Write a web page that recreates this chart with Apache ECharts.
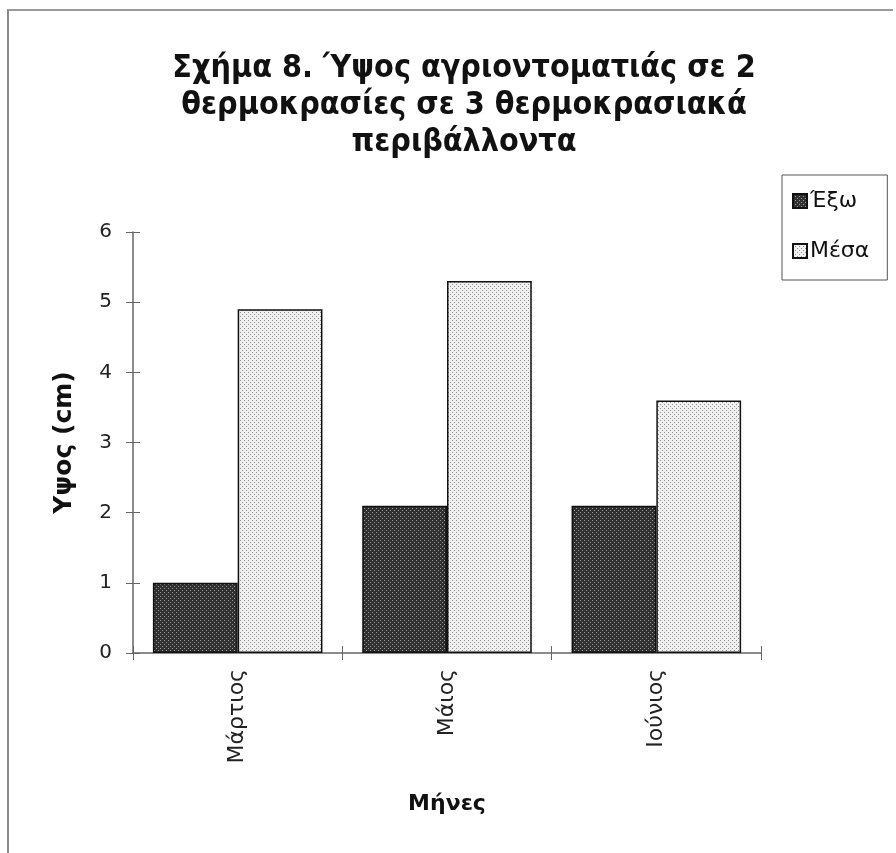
<!DOCTYPE html>
<html>
<head>
<meta charset="utf-8">
<script src="https://cdn.jsdelivr.net/npm/echarts@6/dist/echarts.min.js"></script>
<style>
  html, body { margin: 0; padding: 0; background: #fff; }
  #frame { position: absolute; left: 7px; top: 9px; width: 886px; height: 844px;
           border-left: 2px solid #8a8a8a; border-top: 2px solid #9a9a9a; box-sizing: border-box; }
  #chart { position: absolute; left: 0; top: 0; width: 896px; height: 853px; }
</style>
</head>
<body>
<div id="frame"></div>
<div id="chart"></div>
<script>
// Months on the category axis
const months = ['Μάρτιος', 'Μάιος', 'Ιούνιος'];
// Plant height (cm) outdoors and indoors
const outside = [1.0, 2.1, 2.1];
const inside = [4.9, 5.3, 3.6];
const seriesNames = ['Έξω', 'Μέσα'];
const titleText = 'Σχήμα 8. Ύψος αγριοντοματιάς σε 2\nθερμοκρασίες σε 3 θερμοκρασιακά\nπεριβάλλοντα';

// Small dotted fill patterns in the style of old spreadsheet charts
function dotPattern(bg, dot) {
  const c = document.createElement('canvas');
  c.width = 4; c.height = 4;
  const g = c.getContext('2d');
  g.fillStyle = bg; g.fillRect(0, 0, 4, 4);
  g.fillStyle = dot;
  g.fillRect(0, 0, 1, 1);
  g.fillRect(2, 2, 1, 1);
  return { image: c, repeat: 'repeat' };
}
const darkFill = dotPattern('#303030', '#9a9a9a');
const lightFill = dotPattern('#f0f0f0', '#8f8f8f');

const chart = echarts.init(document.getElementById('chart'), null, { renderer: 'canvas' });
const axisFont = 'DejaVu Sans, Verdana, sans-serif';

chart.setOption({
  animation: false,
  backgroundColor: 'transparent',
  title: {
    text: titleText,
    left: 459, top: 45, textAlign: 'center',
    textStyle: { fontFamily: 'DejaVu Sans Condensed, DejaVu Sans, sans-serif',
                 fontWeight: 'bold', fontSize: 32, lineHeight: 37, color: '#111' }
  },
  legend: {
    orient: 'vertical',
    left: 782, top: 175,
    padding: [15, 18, 18, 10],
    itemWidth: 14, itemHeight: 14, itemGap: 28,
    borderColor: '#555', borderWidth: 1,
    textStyle: { fontFamily: axisFont, fontSize: 22, color: '#111', padding: [0, 0, 0, -2] },
    data: seriesNames.map(n => ({ name: n, icon: 'rect' }))
  },
  grid: { left: 133, right: 135, top: 232, bottom: 200, containLabel: false },
  xAxis: [{
    type: 'category', data: months,
    axisLine: { lineStyle: { color: '#666', width: 1.5 } },
    axisTick: { show: true, length: 7, lineStyle: { color: '#666' } },
    axisLabel: { rotate: 90, margin: 16, fontFamily: axisFont, fontSize: 22, color: '#222' },
    name: 'Μήνες', nameLocation: 'middle', nameGap: 140,
    nameTextStyle: { fontFamily: axisFont, fontWeight: 'bold', fontSize: 22, color: '#111' }
  }, {
    type: 'category', data: months, position: 'bottom',
    axisLine: { show: false },
    axisTick: { show: true, inside: true, length: 7, lineStyle: { color: '#666' } },
    axisLabel: { show: false }
  }],
  yAxis: [{
    type: 'value', min: 0, max: 6, interval: 1,
    axisLine: { show: true, lineStyle: { color: '#666', width: 1.5 } },
    axisTick: { show: true, length: 7, lineStyle: { color: '#666' } },
    splitLine: { show: false },
    axisLabel: { margin: 21, fontFamily: axisFont, fontSize: 20, color: '#222' },
    name: 'Υψος (cm)', nameLocation: 'middle', nameGap: 56, nameRotate: 90,
    nameTextStyle: { fontFamily: axisFont, fontWeight: 'bold', fontSize: 25, color: '#111' }
  }, {
    type: 'value', min: 0, max: 6, interval: 1, position: 'left',
    axisLine: { show: false },
    axisTick: { show: true, inside: true, length: 7, lineStyle: { color: '#666' } },
    splitLine: { show: false },
    axisLabel: { show: false }
  }],
  series: [{
    name: seriesNames[0], type: 'bar', data: outside,
    barCategoryGap: '19%', barGap: '0%',
    itemStyle: { color: darkFill, borderColor: '#111', borderWidth: 1.5 }
  }, {
    name: seriesNames[1], type: 'bar', data: inside,
    barCategoryGap: '19%', barGap: '0%',
    itemStyle: { color: lightFill, borderColor: '#111', borderWidth: 1.5 }
  }]
});
</script>
</body>
</html>
